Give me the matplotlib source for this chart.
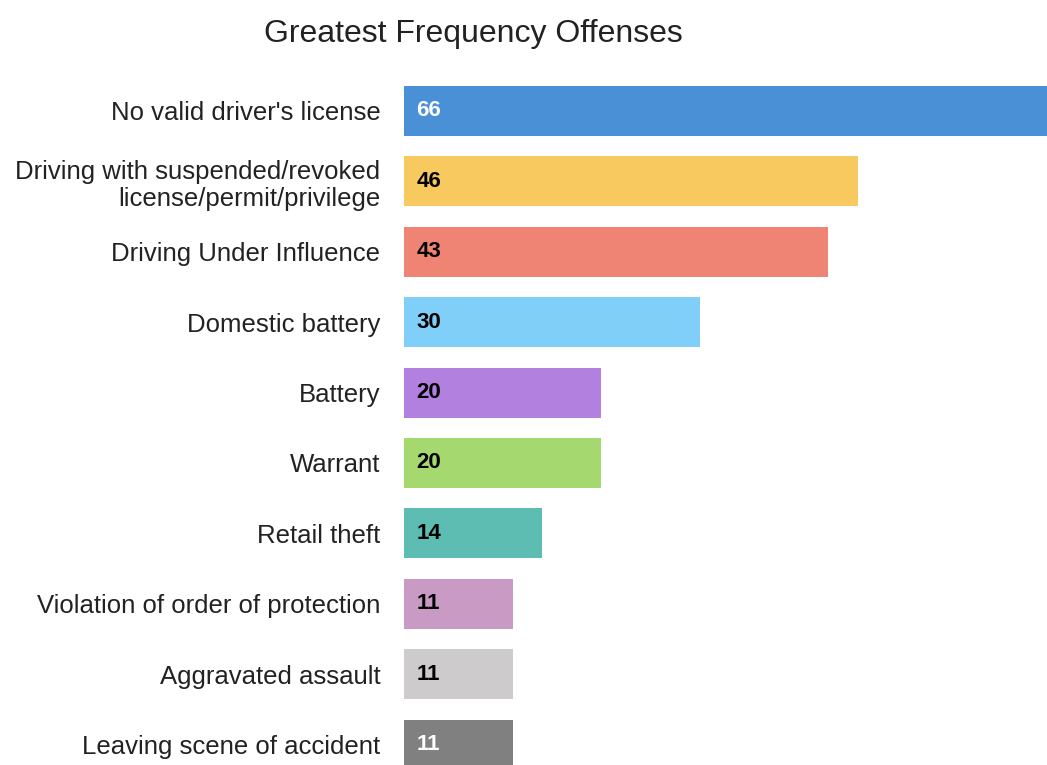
import matplotlib.pyplot as plt

# offense categories and counts, top to bottom as in the chart
offenses = ["No valid driver's license",
            "Driving with suspended/revoked\nlicense/permit/privilege",
            "Driving Under Influence",
            "Domestic battery",
            "Battery",
            "Warrant",
            "Retail theft",
            "Violation of order of protection",
            "Aggravated assault",
            "Leaving scene of accident"]
counts = [66, 46, 43, 30, 20, 20, 14, 11, 11, 11]
bar_colors = ["#4a90d6", "#f7c95e", "#ef8475", "#7fcff8", "#b280de",
              "#a6d870", "#5dbdb2", "#c99bc4", "#cdcbcb", "#808080"]
label_colors = ["white", "black", "black", "black", "black",
                "black", "black", "black", "black", "white"]

plt.rcParams['font.family'] = ['Liberation Sans', 'DejaVu Sans']

fig = plt.figure(figsize=(10.47, 7.65), dpi=100)
ax = fig.add_axes([404 / 1047, 0.0, 643 / 1047, 689.2 / 765])

ypos = list(range(len(offenses)))
ax.barh(ypos, counts, height=0.71, color=bar_colors)
ax.set_xlim(0, 65.15)
ax.set_ylim(9.29, -0.5)

for y, v, c in zip(ypos, counts, label_colors):
    ax.text(1.25, y, str(v), va='center', ha='left', fontsize=16,
            fontweight='bold', color=c)

ax.set_yticks(ypos)
ax.set_yticklabels(offenses, fontsize=18.5, color='#222222', linespacing=1.15)
ax.tick_params(axis='y', length=0, pad=17)
ax.set_xticks([])
for s in ax.spines.values():
    s.set_visible(False)

fig.text(473 / 1047, 1 - 34 / 765, "Greatest Frequency Offenses",
         ha='center', va='center', fontsize=23, color='#222222')

fig.savefig("out.png", dpi=100)
